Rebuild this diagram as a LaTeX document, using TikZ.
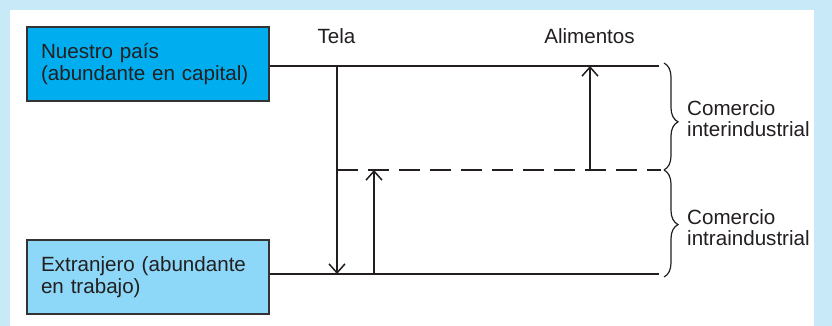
\documentclass[tikz,border=0pt]{standalone}
\usepackage{fontspec}
\setmainfont{Liberation Sans}
\usetikzlibrary{arrows.meta,decorations.pathreplacing}
\definecolor{outerbg}{HTML}{C8E9F8}
\definecolor{topfill}{HTML}{00AEEF}
\definecolor{botfill}{HTML}{8DD8F8}
\definecolor{inkc}{HTML}{231F20}
\definecolor{boxline}{HTML}{333333}
\begin{document}
\begin{tikzpicture}[x=1pt,y=-1pt,
  countrybox/.style={draw=boxline,line width=2.5pt,minimum width=242pt,minimum height=74pt,
    text width=214pt,align=left,inner sep=0pt,text=inkc,font=\fontsize{20.6}{21.5}\selectfont},
  lbl/.style={inner sep=0pt,text=inkc,font=\fontsize{20.6}{21.5}\selectfont},
  mainline/.style={draw=inkc,line width=2.5pt},
  flowarrow/.style={draw=inkc,line width=1.5pt,-{Straight Barb[length=9pt,width=16pt]}},
  flowline/.style={draw=inkc,line width=1.5pt},
  dashline/.style={draw=inkc,line width=1.5pt,dash pattern=on 21pt off 10pt},
  bracestyle/.style={draw=inkc,line width=1.2pt,decorate,decoration={brace,amplitude=14pt,aspect=#1}}
]
\useasboundingbox (0,0) rectangle (832,326);
\fill[outerbg] (0,0) rectangle (832,326);
\fill[white] (10,10) rectangle (814,326);

\node[countrybox,fill=topfill] (top) at (148,64) {Nuestro país\\(abundante en capital)};
\node[countrybox,fill=botfill] (bot) at (148,277) {Extranjero (abundante\\en trabajo)};

\coordinate (tr) at (659,66);
\coordinate (br) at (659,274);
\coordinate (dl) at (337,170);
\coordinate (dr) at (661,170);

\draw[mainline] (top.east |- tr) -- (tr);
\draw[mainline] (bot.east |- br) -- (br);
\draw[dashline] (dl) -- (dr);

\coordinate (telatop) at (337,66);
\coordinate (telabot) at (337,274);
\draw[flowarrow] (telatop) -- (telabot);

\coordinate (upbot) at (374,274);
\coordinate (uptop) at (374,170);
\draw[flowarrow] (upbot) -- (uptop);

\coordinate (alibot) at (590,170);
\coordinate (alitop) at (590,66);
\draw[flowarrow] (alibot) -- (alitop);

\node[lbl,anchor=base] (tela) at (336.5,43.5) {Tela};
\node[lbl,anchor=base] (alim) at (589.5,43.5) {Alimentos};

\coordinate (b1a) at (664,63);
\coordinate (b1b) at (664,170);
\coordinate (b2a) at (664,170);
\coordinate (b2b) at (664,277);
\draw[bracestyle=0.55] (b1a) -- (b1b);
\draw[bracestyle=0.51] (b2a) -- (b2b);

\node[lbl,align=left,anchor=north west] (inter) at (687,100) {Comercio\\interindustrial};
\node[lbl,align=left,anchor=north west] (intra) at (687,209) {Comercio\\intraindustrial};
\end{tikzpicture}
\end{document}
